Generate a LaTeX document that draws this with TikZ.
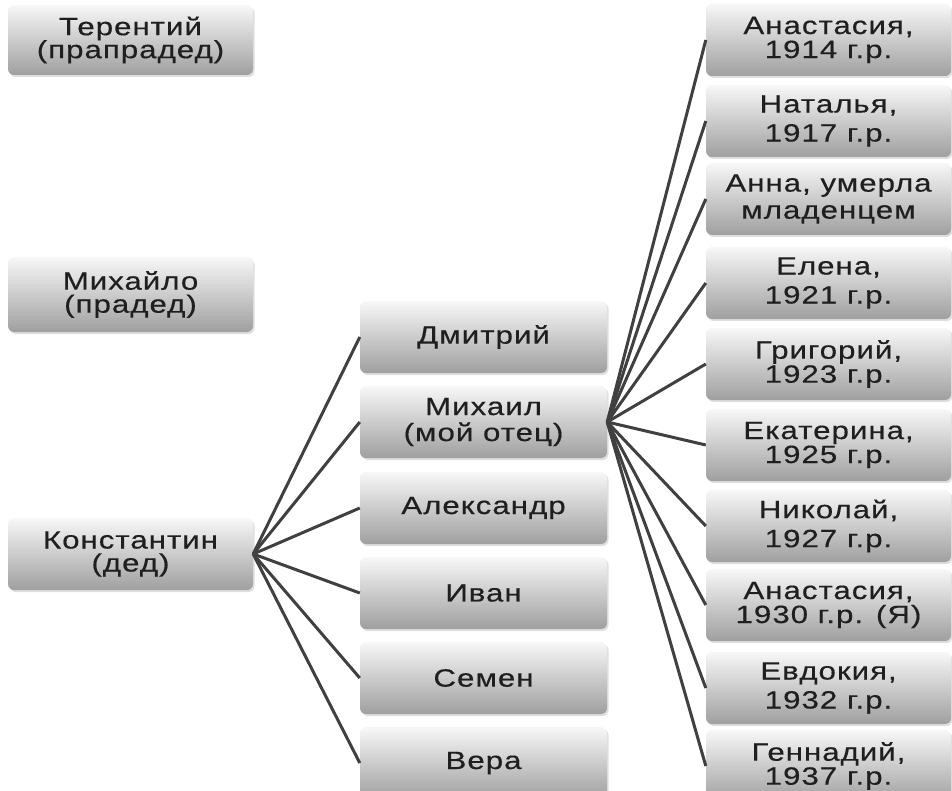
\documentclass[tikz,border=0pt]{standalone}
\usepackage{fontspec}
\setmainfont{Liberation Sans}[FakeStretch=1.25,LetterSpace=4,FakeBold=0.4]
\usetikzlibrary{shadows}

\tikzset{
  person/.style={rectangle, rounded corners=6pt, minimum width=245pt, minimum height=72pt,
    top color=white!94!gray, bottom color=gray!75, draw=none, align=center,
    text=black!88, font=\fontsize{25}{26}\selectfont,
    drop shadow={opacity=0.25, shadow xshift=1.5pt, shadow yshift=-2pt}},
  link/.style={draw=black!75, line width=3pt}
}

\begin{document}
\begin{tikzpicture}[x=1pt, y=-1pt]
\useasboundingbox (0,0) rectangle (952,791);
\begin{scope}
\clip (0,0) rectangle (952,791);
% left column
\node[person, minimum height=70pt] (terentiy) at (130.5,40) {Терентий\\[-3pt](прапрадед)};
\node[person, minimum height=75pt] (mikhaylo) at (130.5,294.5) {Михайло\\[-3pt](прадед)};
\node[person] (konstantin) at (130.5,554) {Константин\\[-3pt](дед)};

% middle column
\node[person, minimum width=247pt] (dmitriy) at (483.5,337) {Дмитрий};
\node[person, minimum width=247pt] (mikhail) at (483.5,422) {Михаил\\[0pt](мой отец)};
\node[person, minimum width=247pt] (aleksandr) at (483.5,508) {Александр};
\node[person, minimum width=247pt] (ivan) at (483.5,593) {Иван};
\node[person, minimum width=247pt] (semen) at (483.5,678) {Семен};
\node[person, minimum width=247pt] (vera) at (483.5,763) {Вера};

% right column
\node[person] (anastasiya1) at (828.5,40) {Анастасия,\\[-2pt]1914 г.р.};
\node[person] (natalya) at (828.5,121) {Наталья,\\[3pt]1917 г.р.};
\node[person] (anna) at (828.5,199) {Анна, умерла\\[1pt]младенцем};
\node[person] (elena) at (828.5,283) {Елена,\\[3pt]1921 г.р.};
\node[person] (grigoriy) at (828.5,364) {Григорий,\\[-2pt]1923 г.р.};
\node[person] (ekaterina) at (828.5,445) {Екатерина,\\[-2pt]1925 г.р.};
\node[person] (nikolay) at (828.5,526) {Николай,\\[3pt]1927 г.р.};
\node[person] (anastasiya2) at (828.5,605) {Анастасия,\\[-2pt]1930 г.р. (Я)};
\node[person] (evdokiya) at (828.5,688) {Евдокия,\\[3pt]1932 г.р.};
\node[person] (gennadiy) at (828.5,766) {Геннадий,\\[-2pt]1937 г.р.};

\foreach \kid in {dmitriy,mikhail,aleksandr,ivan,semen,vera}
  \draw[link] (konstantin.east) -- (\kid.west);
\foreach \kid in {anastasiya1,natalya,anna,elena,grigoriy,ekaterina,nikolay,anastasiya2,evdokiya,gennadiy}
  \draw[link] (mikhail.east) -- (\kid.west);
\end{scope}
\end{tikzpicture}
\end{document}
